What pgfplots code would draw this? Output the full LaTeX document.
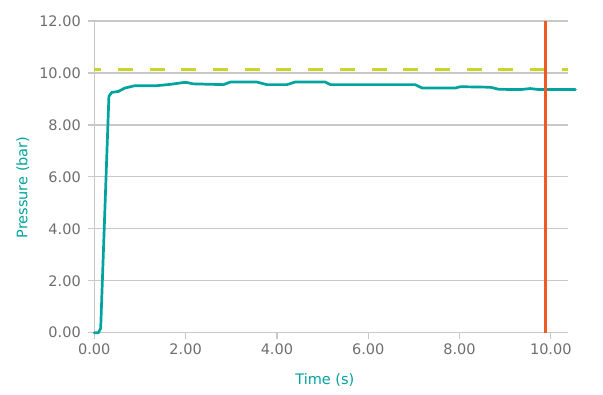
\documentclass[border=0pt]{standalone}
\usepackage{pgfplots}
\pgfplotsset{compat=1.18}
\usepackage{fontspec}
\setmainfont{DejaVu Sans}
\definecolor{teal1}{RGB}{0,163,158}
\definecolor{lime1}{RGB}{200,212,40}
\definecolor{red1}{RGB}{240,90,34}
\definecolor{grid1}{RGB}{200,200,200}
\definecolor{tick1}{RGB}{110,110,110}
\begin{document}
\begin{tikzpicture}
\begin{axis}[
  scale only axis, width=473.4pt, height=311.7pt,
  xmin=0, xmax=10.37, ymin=0, ymax=12,
  xtick={0,2,4,6,8,10}, ytick={0,2,4,6,8,10,12},
  axis x line*=bottom, axis y line*=left,
  axis line style={grid1, line width=1.3pt},
  ymajorgrids, major grid style={grid1, line width=1.3pt},
  tick style={grid1, line width=1.3pt}, major tick length=6pt, tick align=outside,
  ticklabel style={font=\fontsize{14.5}{17}\selectfont, text=tick1,
    /pgf/number format/fixed, /pgf/number format/fixed zerofill,
    /pgf/number format/precision=2, /pgf/number format/assume math mode=true},
  yticklabel style={xshift=-4pt},
  xticklabel style={yshift=-2pt},
  xlabel={Time (s)}, ylabel={Pressure (bar)},
  label style={font=\fontsize{14.5}{17}\selectfont, text=teal1},
  xlabel style={at={(axis description cs:0.487,0)}, anchor=base, yshift=-51.3pt},
  ylabel style={at={(axis description cs:0,0.466)}, anchor=base, yshift=67pt},
  clip=false,
]
\coordinate (sw) at (rel axis cs:0,0);
\coordinate (ne) at (rel axis cs:1,1);
\addplot[lime1, line width=2.8pt, dash pattern=on 15pt off 16.7pt, dash phase=8pt] coordinates {(0,10.12) (10.37,10.12)};
\addplot[teal1, line width=2.7pt, line join=round, line cap=round] coordinates {
(0,0) (0.09,0) (0.14,0.17) (0.32,9.10) (0.38,9.25) (0.53,9.29) (0.67,9.42) (0.89,9.51) (1.37,9.51) (1.66,9.56) (1.95,9.63) (2.03,9.63) (2.17,9.58) (2.83,9.55) (2.98,9.65) (3.56,9.65) (3.78,9.55) (4.22,9.55) (4.40,9.65) (5.06,9.65) (5.17,9.55) (7.03,9.55) (7.18,9.42) (7.91,9.42) (8.02,9.47) (8.68,9.45) (8.86,9.37) (9.34,9.36) (9.55,9.40) (9.74,9.36) (10.54,9.36)};
\addplot[red1, line width=2.6pt] coordinates {(9.88,0) (9.88,12)};
\end{axis}
\pgfresetboundingbox
\path[use as bounding box] ([xshift=-94.3pt,yshift=-61.3pt]sw) rectangle ([xshift=35.3pt,yshift=21pt]ne);
\end{tikzpicture}
\end{document}
